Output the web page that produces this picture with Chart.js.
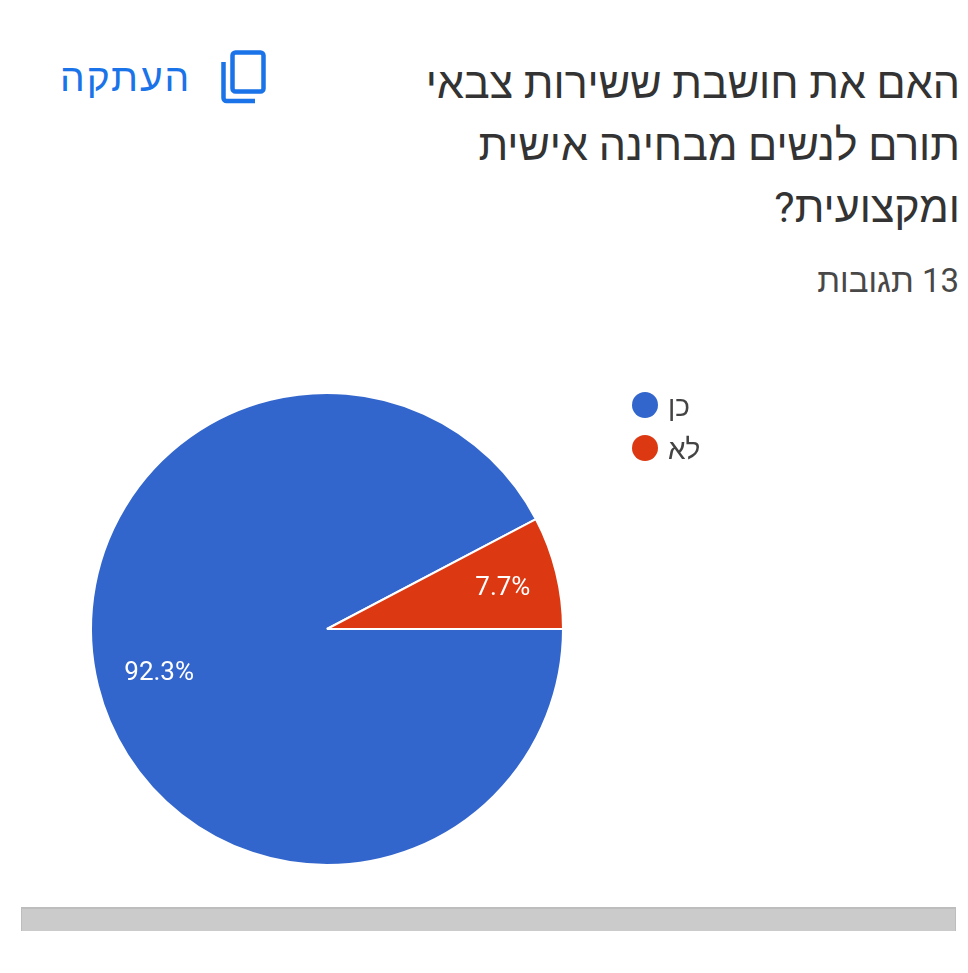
<!DOCTYPE html>
<html lang="he">
<head>
<meta charset="utf-8">
<script src="https://cdn.jsdelivr.net/npm/chart.js@4"></script>
<style>
    html, body { margin: 0; padding: 0; background: #fff; }
    body { width: 968px; height: 973px; position: relative; overflow: hidden; font-family: Roboto, "Noto Sans", sans-serif; }
    #title { position: absolute; right: 8px; top: 52px; width: 560px; direction: rtl; font-size: 43px; line-height: 62px; color: #333; }
    #count { position: absolute; right: 9px; top: 263px; direction: rtl; font-size: 33px; line-height: 36px; color: #484848; }
    #copy { position: absolute; left: 60px; top: 56px; direction: rtl; font-size: 39px; line-height: 44px; font-weight: 500; letter-spacing: 2px; color: #1a73e8; }
    #icon { position: absolute; left: 218px; top: 48px; }
    #wrap { position: absolute; left: 0; top: 340px; width: 968px; height: 560px; }
    #bar { position: absolute; left: 21px; top: 907px; width: 935px; height: 24px; background: #cbcbcb; box-sizing: border-box; border-top: 2px solid #bdbdbd; border-left: 1px solid #bdbdbd; border-right: 1px solid #bdbdbd; }
</style>
</head>
<body>
<div id="title">האם את חושבת ששירות צבאי תורם לנשים מבחינה אישית ומקצועית?</div>
<div id="count">13 תגובות</div>
<div id="copy">העתקה</div>
<svg id="icon" width="50" height="58" viewBox="0 0 50 58" fill="none" stroke="#1a73e8" stroke-width="4.5">
    <rect x="14.5" y="4.5" width="31" height="39" rx="3"></rect>
    <path d="M5.5 14 V50 a3 3 0 0 0 3 3 H37"></path>
</svg>
<div id="wrap"><canvas id="grafica"></canvas></div>
<div id="bar"></div>
<script>
const categories = ["כן", "לא"];
const valors = [92.3, 7.7];
const colors = ["#3366cc", "#dc3912"];

// Etiquetes de percentatge a sobre de cada porció
const etiquetes = {
    id: "etiquetes",
    afterDatasetsDraw(chart) {
        const { ctx } = chart;
        const arcs = chart.getDatasetMeta(0).data;
        ctx.save();
        ctx.fillStyle = "#fff";
        ctx.font = '26px Roboto, "Noto Sans", sans-serif';
        ctx.textAlign = "center";
        ctx.textBaseline = "middle";
        arcs.forEach((arc, i) => {
            const mig = (arc.startAngle + arc.endAngle) / 2;
            const r = arc.outerRadius * 0.75;
            ctx.fillText(valors[i].toFixed(1) + "%", arc.x + Math.cos(mig) * r + 4, arc.y + Math.sin(mig) * r + 2);
        });
        ctx.restore();
    }
};

// Llegenda a mida, a la dreta del pastís
const llegenda = {
    id: "llegenda",
    afterDraw(chart) {
        const { ctx } = chart;
        ctx.save();
        ctx.font = '28px Roboto, "Noto Sans", sans-serif';
        ctx.textBaseline = "middle";
        ctx.textAlign = "left";
        categories.forEach((cat, i) => {
            const y = 65 + i * 43;
            ctx.beginPath();
            ctx.arc(645, y, 13, 0, Math.PI * 2);
            ctx.fillStyle = colors[i];
            ctx.fill();
            ctx.fillStyle = "#444";
            ctx.fillText(cat, 668, y + 4);
        });
        ctx.restore();
    }
};

new Chart(document.getElementById("grafica").getContext("2d"), {
    type: "pie",
    data: {
        labels: categories,
        datasets: [{
            data: valors,
            backgroundColor: colors,
            borderColor: "#fff",
            borderWidth: 2
        }]
    },
    options: {
        responsive: true,
        maintainAspectRatio: false,
        animation: false,
        rotation: 90,
        layout: { padding: { left: 90, right: 404, top: 52, bottom: 34 } },
        plugins: { legend: { display: false }, tooltip: { enabled: false } }
    },
    plugins: [etiquetes, llegenda]
});
</script>
</body>
</html>
